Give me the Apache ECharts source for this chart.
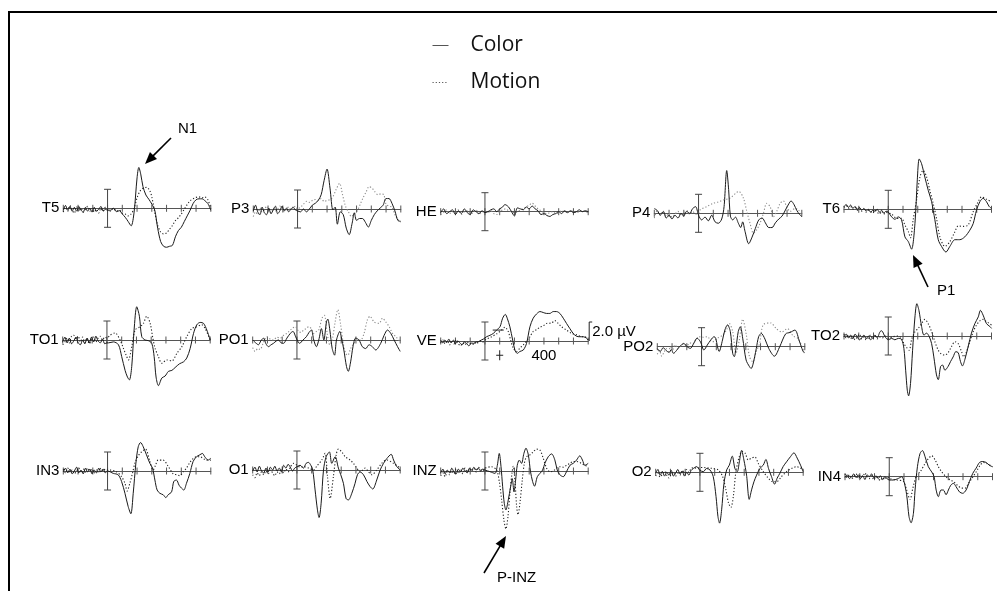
<!DOCTYPE html>
<html>
<head>
<meta charset="utf-8">
<title>ERP Color vs Motion</title>
<script src="https://cdn.jsdelivr.net/npm/echarts/dist/echarts.min.js"></script>
<style>
  html, body { margin: 0; padding: 0; background: #fff; }
  #erp { width: 997px; height: 591px; }
</style>
</head>
<body>
<div id="erp"></div>
<script>
// grand average ERPs, time in ms, amplitude in µV (negative plotted up)
const channels = ['T5', 'P3', 'HE', 'P4', 'T6', 'TO1', 'PO1', 'VE', 'PO2', 'TO2', 'IN3', 'O1', 'INZ', 'O2', 'IN4'];
const timeTicks = [-300, -200, -100, 0, 100, 200, 300, 400, 500, 600, 700];
const veTickLabel = 400;
const scaleBarUv = 2.0;

const t5Color = [[-300,0.2],[-285,-0.3],[-270,0.2],[-255,-0.2],[-240,0.3],[-225,-0.1],[-210,0.3],[-195,-0.2],[-180,0.2],[-165,0.4],[-150,-0.1],[-135,0.3],[-120,0.0],[-105,0.4],[-90,-0.1],[-75,0.3],[-60,0.1],[-45,-0.2],[-30,0.3],[-15,0.1],[0,0.2],[20,0.2],[40,0.0],[60,0.35],[80,0.25],[100,0.6],[120,0.95],[140,1.4],[160,1.85],[180,0.4],[200,-3.2],[212,-4.3],[225,-3.6],[240,-2.3],[260,-1.4],[280,-0.95],[300,-0.45],[320,0.2],[340,2.1],[360,3.5],[380,4.0],[400,4.1],[420,4.0],[440,3.9],[460,3.0],[480,2.35],[500,2.0],[520,1.4],[540,0.8],[560,0.2],[580,-0.5],[600,-0.9],[620,-1.0],[640,-1.0],[660,-0.8],[680,-0.5],[700,0.2]];
const t5Motion = [[-300,0.4],[-285,-0.1],[-270,0.3],[-255,-0.3],[-240,0.2],[-225,0.5],[-210,-0.2],[-195,0.3],[-180,0.0],[-165,0.4],[-150,0.1],[-135,-0.2],[-120,0.3],[-105,0.0],[-90,0.4],[-75,0.1],[-60,0.5],[-45,0.0],[-30,0.3],[-15,-0.1],[0,0.1],[20,0.3],[40,0.0],[60,0.3],[80,0.2],[100,0.5],[120,0.6],[140,0.8],[160,0.6],[180,0.0],[200,-1.1],[220,-1.8],[240,-2.1],[265,-2.2],[285,-1.9],[300,-1.2],[320,0.4],[340,1.8],[360,2.5],[380,2.7],[400,2.6],[420,2.2],[440,1.8],[460,1.3],[480,1.0],[500,0.6],[520,0.1],[540,-0.4],[560,-0.8],[580,-1.0],[600,-1.15],[620,-1.2],[640,-1.1],[660,-1.2],[680,-0.9],[700,0.0]];

const p3Color = [[-300,0.2],[-285,-0.4],[-270,0.3],[-255,0.6],[-240,-0.2],[-225,0.4],[-210,0.6],[-195,-0.1],[-180,0.5],[-165,0.1],[-150,-0.3],[-135,0.5],[-120,0.2],[-105,-0.3],[-90,0.2],[-75,-0.1],[-60,0.3],[-45,0.0],[-30,-0.2],[-15,0.1],[0,0.2],[20,0.3],[40,0.0],[60,0.3],[80,0.0],[100,-0.4],[120,-0.6],[140,-0.9],[160,-1.5],[180,-3.0],[200,-4.2],[220,-2.2],[240,0.1],[255,-0.2],[270,1.6],[290,0.3],[310,0.6],[330,2.0],[350,2.7],[370,1.5],[385,0.4],[400,1.2],[420,1.0],[440,1.0],[460,1.4],[480,1.9],[500,1.2],[520,0.6],[540,0.2],[560,-0.1],[580,-0.4],[600,-1.1],[620,-1.1],[640,-0.6],[660,0.2],[680,1.2],[700,1.3]];
const p3Motion = [[-300,0.8],[-285,0.3],[-270,0.6],[-255,-0.1],[-240,0.3],[-225,0.1],[-210,-0.3],[-195,0.2],[-180,0.4],[-165,-0.1],[-150,0.2],[-135,0.0],[-120,-0.3],[-105,0.1],[-90,0.3],[-75,0.0],[-60,-0.2],[-45,0.1],[-30,-0.1],[-15,-0.3],[0,0.0],[20,-0.2],[40,-0.5],[60,-0.8],[80,-0.7],[100,-0.9],[120,-1.0],[140,-0.9],[160,-1.1],[180,-0.8],[200,-0.9],[220,-1.0],[240,-1.3],[260,-2.0],[285,-2.7],[305,-1.5],[325,-0.3],[345,0.3],[365,0.8],[385,0.5],[405,0.2],[425,-0.5],[445,-1.2],[465,-1.8],[485,-2.35],[505,-2.2],[525,-1.8],[545,-1.5],[565,-1.6],[585,-1.5],[600,-0.5],[620,-0.3],[640,-0.2],[660,0.6],[680,1.1],[700,1.4]];

const heColor = [[-300,0.1],[-280,-0.3],[-260,0.2],[-240,0.0],[-220,-0.2],[-200,0.3],[-180,-0.1],[-160,0.2],[-140,-0.3],[-120,0.1],[-100,0.3],[-80,-0.2],[-60,0.0],[-40,0.2],[-20,-0.1],[0,0.1],[20,0.0],[40,-0.2],[60,-0.3],[80,0.0],[100,-0.3],[120,-0.5],[135,-0.75],[160,-0.5],[180,0.0],[200,0.45],[220,-0.4],[240,-0.3],[260,-0.2],[280,-0.5],[300,-0.3],[320,-0.6],[340,-0.3],[360,-0.1],[380,0.3],[400,0.2],[420,0.4],[440,0.5],[460,0.3],[480,0.2],[500,0.0],[520,0.2],[540,-0.1],[560,0.1],[580,-0.1],[600,0.1],[620,0.0],[640,-0.2],[660,0.0],[680,-0.1],[700,0.0]];
const heMotion = [[-300,0.3],[-280,0.1],[-260,-0.2],[-240,0.2],[-220,0.0],[-200,0.1],[-180,-0.2],[-160,0.3],[-140,0.0],[-120,-0.1],[-100,0.2],[-80,0.1],[-60,-0.2],[-40,0.3],[-20,0.0],[0,0.0],[20,0.1],[40,-0.1],[60,0.2],[80,0.3],[100,0.0],[120,-0.2],[140,-0.3],[160,-0.1],[180,0.0],[200,0.1],[220,0.0],[240,-0.2],[260,-0.3],[280,-0.5],[300,-0.7],[320,-0.9],[340,-0.6],[360,-0.3],[380,-0.1],[400,0.1],[420,0.2],[440,0.1],[460,0.0],[480,0.2],[500,0.1],[520,-0.1],[540,0.0],[560,0.1],[580,-0.1],[600,0.0],[620,0.1],[640,0.0],[660,-0.1],[680,0.0],[700,0.1]];

const p4Color = [[-300,-0.5],[-280,-0.3],[-259,0.2],[-239,-0.2],[-219,0.5],[-200,0.2],[-180,0.6],[-160,0.2],[-139,0.5],[-119,0.0],[-101,0.3],[-81,-0.2],[-60,0.0],[-40,-0.5],[-20,-0.7],[0,0.2],[21,0.7],[44,0.4],[66,0.8],[89,0.2],[112,0.9],[134,1.05],[157,0.6],[173,-0.7],[191,-4.5],[204,-2.5],[216,0.3],[232,0.7],[250,0.4],[270,1.05],[286,1.5],[299,0.9],[315,1.9],[340,3.2],[363,2.5],[385,1.6],[408,0.7],[431,0.5],[453,1.0],[476,1.5],[498,1.5],[521,1.0],[544,0.6],[566,0.3],[589,-0.35],[612,-1.0],[627,-1.3],[648,-0.9],[666,-0.3],[684,0.1],[700,0.35]];
const p4Motion = [[-300,0.5],[-280,-0.3],[-260,0.2],[-240,-0.2],[-220,0.3],[-200,0.0],[-180,0.4],[-160,0.1],[-140,-0.2],[-120,0.2],[-100,0.0],[-80,-0.3],[-60,0.1],[-40,-0.2],[-20,0.1],[0,0.0],[10,-0.35],[55,-0.7],[100,-1.05],[134,-1.2],[168,-1.4],[213,-1.6],[259,-2.2],[274,-2.3],[304,-1.6],[327,-0.2],[349,1.05],[372,2.1],[394,1.75],[417,1.05],[440,0.0],[462,-1.05],[485,-0.7],[508,0.35],[530,-0.2],[553,-1.05],[575,-1.3],[598,-0.7],[621,-0.2],[655,-0.5],[677,-0.35],[700,0.2]];

const t6Color = [[-300,-0.3],[-285,-0.5],[-270,-0.2],[-255,-0.45],[-240,-0.1],[-225,-0.3],[-210,0.0],[-195,-0.2],[-180,0.1],[-165,-0.1],[-150,0.2],[-135,0.0],[-120,0.3],[-105,0.1],[-90,0.2],[-75,0.0],[-60,0.3],[-45,0.1],[-30,0.4],[-15,0.2],[0,0.3],[23,0.8],[45,1.05],[68,0.8],[90,1.1],[113,2.9],[136,3.4],[158,4.2],[181,1.5],[197,-3.1],[210,-5.3],[226,-4.8],[248,-3.4],[271,-2.0],[294,-0.8],[316,1.1],[339,3.2],[361,3.9],[391,4.5],[418,3.9],[452,3.2],[485,3.2],[519,2.9],[553,2.2],[576,1.5],[598,0.1],[621,-0.8],[643,-1.15],[666,-0.8],[684,-0.3],[700,-0.1]];
const t6Motion = [[-300,-0.2],[-285,-0.4],[-270,-0.1],[-255,-0.3],[-240,0.0],[-225,-0.2],[-210,0.1],[-195,-0.1],[-180,0.2],[-165,0.0],[-150,0.3],[-135,0.1],[-120,0.2],[-105,0.4],[-90,0.1],[-75,0.3],[-60,0.5],[-45,0.2],[-30,0.5],[-15,0.3],[0,0.4],[23,0.5],[57,0.95],[90,0.95],[113,1.65],[136,2.35],[151,3.0],[169,1.1],[192,-1.0],[215,-3.4],[237,-4.1],[260,-3.4],[282,-2.0],[305,-0.6],[327,0.95],[350,2.9],[384,3.9],[418,3.4],[452,2.35],[474,1.75],[508,1.8],[542,1.65],[576,0.25],[610,-0.8],[632,-1.3],[666,-1.05],[700,-0.8]];

const to1Color = [[-300,0.2],[-285,-0.3],[-270,0.3],[-255,-0.2],[-240,0.4],[-225,0.1],[-210,-0.3],[-195,0.3],[-180,0.5],[-165,0.0],[-150,0.4],[-135,-0.2],[-120,0.3],[-105,-0.3],[-90,0.2],[-75,-0.4],[-60,0.1],[-45,0.3],[-30,-0.1],[-15,0.4],[0,0.3],[10,0.3],[44,0.2],[78,0.5],[100,1.75],[123,3.2],[139,3.9],[152,4.2],[168,2.8],[184,-1.05],[202,-3.5],[220,-2.5],[236,-0.35],[259,0.0],[281,0.07],[304,0.35],[320,1.75],[333,3.9],[349,4.8],[372,4.0],[394,3.8],[417,3.3],[440,3.2],[462,2.9],[492,2.5],[519,2.3],[541,1.9],[564,0.9],[587,-0.7],[609,-1.6],[632,-1.85],[655,-1.75],[677,-1.05],[700,0.0]];
const to1Motion = [[-300,0.5],[-285,0.2],[-270,-0.2],[-255,0.3],[-240,-0.4],[-225,-0.5],[-210,-0.1],[-195,-0.4],[-180,0.2],[-165,-0.3],[-150,0.3],[-135,-0.2],[-120,0.4],[-105,0.0],[-90,-0.3],[-75,0.2],[-60,-0.2],[-45,-0.4],[-30,0.0],[-15,-0.3],[0,-0.2],[21,-0.5],[55,-0.75],[89,0.0],[112,0.9],[130,1.6],[146,2.1],[168,0.7],[191,-1.05],[225,-1.4],[247,-1.75],[270,-2.5],[293,-1.75],[311,-0.2],[327,0.9],[349,1.75],[372,2.45],[406,2.1],[440,2.2],[474,1.4],[508,0.7],[541,-0.35],[575,-1.2],[609,-1.4],[643,-1.6],[666,-1.2],[700,0.0]];

const po1Color = [[-300,0.0],[-280,0.3],[-261,0.5],[-245,0.1],[-227,-0.2],[-210,0.4],[-193,0.7],[-175,0.5],[-159,0.35],[-140,0.1],[-125,0.0],[-108,0.3],[-91,0.35],[-68,-0.2],[-45,-0.7],[-27,-0.9],[-5,-0.2],[18,0.35],[41,0.0],[64,-0.35],[82,-0.8],[98,-1.05],[114,0.0],[132,0.7],[148,0.0],[166,-1.2],[182,0.0],[200,-1.9],[209,-2.2],[223,-1.05],[239,0.9],[255,1.6],[268,0.0],[291,-0.9],[300,-0.35],[318,1.05],[336,2.8],[348,3.3],[364,2.3],[380,0.7],[398,-0.2],[421,0.0],[443,0.7],[466,0.9],[489,0.5],[511,0.7],[534,1.05],[568,0.35],[591,-0.5],[614,-1.05],[636,-0.7],[659,0.0],[682,0.7],[700,1.2]];
const po1Motion = [[-300,0.8],[-284,1.2],[-265,0.9],[-250,1.0],[-228,0.3],[-205,-0.35],[-182,-0.1],[-159,0.0],[-136,-0.3],[-114,-0.2],[-90,-0.5],[-68,-0.7],[-34,-1.2],[-11,-1.4],[11,-0.9],[28,-0.8],[45,-1.05],[62,-1.2],[80,-1.4],[97,-1.2],[114,-0.7],[131,-0.9],[148,-1.05],[170,-2.3],[186,-2.6],[205,-0.7],[223,0.5],[239,0.0],[261,-2.1],[277,-3.2],[295,-1.75],[314,0.35],[330,1.4],[345,1.6],[364,0.9],[386,0.35],[409,0.0],[432,0.0],[455,-0.7],[477,-2.1],[495,-2.5],[523,-1.9],[557,-1.75],[580,-2.3],[602,-1.9],[625,-1.4],[648,-0.7],[671,-0.35],[700,0.2]];

const veColor = [[-300,-0.1],[-285,0.2],[-272,-0.1],[-259,0.1],[-245,-0.2],[-230,0.2],[-214,-0.1],[-200,0.3],[-185,0.0],[-169,0.2],[-155,0.4],[-140,0.1],[-124,0.25],[-110,0.5],[-101,0.4],[-90,0.2],[-79,0.25],[-60,0.1],[-45,0.07],[-25,-0.1],[-11,-0.2],[11,-0.45],[34,-0.6],[57,-0.8],[79,-1.15],[102,-1.5],[120,-2.4],[138,-2.8],[151,-2.4],[169,-1.5],[188,-0.1],[203,0.95],[219,1.3],[237,1.1],[260,0.95],[282,0.25],[305,-1.5],[327,-2.4],[350,-2.85],[373,-3.1],[395,-3.0],[418,-2.9],[440,-2.9],[463,-3.1],[485,-3.1],[508,-2.9],[531,-2.4],[553,-1.85],[576,-1.3],[598,-0.8],[621,-0.5],[643,-0.45],[666,-0.45],[689,-0.3],[700,-0.1]];
const veMotion = [[-300,0.2],[-285,-0.1],[-270,0.3],[-255,0.0],[-240,0.4],[-225,0.1],[-210,0.3],[-195,-0.1],[-180,0.3],[-165,0.5],[-150,0.2],[-135,0.4],[-120,0.1],[-105,0.3],[-90,0.2],[-75,0.4],[-60,0.1],[-45,0.2],[-30,0.0],[-15,0.1],[0,-0.1],[11,-0.2],[45,-0.45],[79,-0.75],[113,-1.15],[135,-1.45],[158,-1.0],[174,-0.1],[192,0.75],[215,1.1],[237,0.75],[260,0.4],[282,0.0],[305,-0.45],[327,-1.0],[350,-1.2],[373,-1.45],[395,-1.6],[418,-1.85],[452,-1.9],[474,-2.15],[497,-1.85],[519,-1.5],[553,-1.15],[587,-0.8],[621,-0.65],[655,-0.45],[677,-0.45],[700,-0.1]];

const po2Color = [[-300,0.2],[-280,0.5],[-260,0.1],[-240,0.4],[-220,0.6],[-205,0.3],[-190,0.7],[-170,0.4],[-150,0.0],[-135,-0.2],[-121,-0.35],[-98,0.0],[-76,0.18],[-53,-0.35],[-30,-0.9],[-7,-0.5],[16,0.35],[39,-0.18],[62,-0.7],[85,-1.05],[96,-0.9],[108,0.0],[119,0.5],[142,-0.7],[158,-1.75],[176,-2.3],[195,-1.6],[211,0.7],[222,1.05],[233,0.2],[249,-1.6],[263,-2.1],[279,-0.9],[302,1.4],[325,2.1],[336,2.3],[348,1.9],[371,0.2],[387,-1.05],[405,-1.4],[430,-0.8],[456,0.2],[494,1.0],[530,0.0],[570,-1.35],[600,-1.5],[633,-1.75],[665,-0.5],[696,0.6],[700,0.6]];
const po2Motion = [[-300,0.8],[-285,0.4],[-270,1.0],[-255,0.6],[-240,0.2],[-225,0.5],[-210,0.0],[-195,0.3],[-180,-0.2],[-160,0.2],[-140,-0.1],[-120,-0.3],[-100,-0.1],[-80,-0.4],[-60,-0.3],[-40,-0.7],[-18,-1.05],[10,-1.0],[39,-1.05],[73,-0.5],[108,-0.9],[142,-1.2],[170,-1.8],[188,-2.45],[211,-1.6],[233,0.7],[256,-0.7],[279,-2.9],[302,-1.4],[325,1.05],[348,1.6],[371,0.5],[394,-0.35],[418,-2.3],[469,-2.5],[507,-1.9],[544,-1.55],[582,-1.9],[620,-1.15],[657,-0.8],[700,0.8]];

const to2Color = [[-300,0.1],[-285,-0.2],[-270,0.2],[-255,-0.1],[-240,0.3],[-225,-0.2],[-210,0.1],[-195,0.4],[-180,0.2],[-165,-0.1],[-150,0.3],[-135,0.0],[-120,0.4],[-105,0.2],[-90,-0.1],[-75,0.2],[-56,-0.45],[-45,-0.55],[-22,0.07],[0,0.4],[23,0.25],[45,0.4],[68,0.25],[90,0.35],[106,1.3],[118,3.6],[129,5.7],[138,6.3],[151,5.0],[165,1.5],[181,-2.0],[194,-3.4],[208,-2.7],[226,-1.0],[242,-0.1],[260,-0.3],[278,0.07],[294,0.8],[309,2.2],[327,4.1],[339,4.6],[355,3.2],[368,3.05],[384,3.6],[406,3.2],[422,2.7],[440,2.2],[458,1.65],[474,1.75],[490,2.7],[503,3.15],[519,2.5],[542,1.1],[564,-0.3],[587,-1.3],[610,-2.0],[625,-2.7],[643,-2.2],[666,-1.3],[689,-1.0],[700,-0.8]];
const to2Motion = [[-300,-0.2],[-285,0.2],[-270,-0.1],[-255,0.3],[-240,0.0],[-225,0.4],[-210,0.1],[-195,-0.2],[-180,0.3],[-165,0.1],[-150,0.4],[-135,0.2],[-120,-0.1],[-105,0.3],[-90,0.0],[-75,0.3],[-60,0.1],[-40,0.2],[-20,0.0],[0,0.25],[34,0.07],[68,0.0],[90,0.25],[106,0.8],[124,1.2],[142,1.5],[158,0.4],[181,-0.45],[203,-0.8],[226,-1.3],[248,-1.75],[271,-1.3],[294,-0.45],[316,0.6],[339,1.5],[361,1.9],[384,2.0],[406,1.75],[429,1.1],[452,0.6],[474,0.8],[497,1.65],[513,2.2],[531,1.65],[553,0.6],[576,-0.45],[598,-1.15],[621,-1.6],[643,-1.75],[666,-1.5],[689,-1.3],[700,-1.15]];

const in3Color = [[-300,0.1],[-285,-0.3],[-270,0.2],[-255,-0.2],[-240,0.3],[-225,0.0],[-210,-0.4],[-195,0.2],[-180,-0.1],[-165,0.3],[-150,-0.3],[-135,0.1],[-120,-0.2],[-105,0.3],[-90,-0.1],[-75,0.2],[-60,-0.3],[-45,0.1],[-30,-0.2],[-15,0.2],[0,0.0],[39,0.25],[72,0.4],[95,1.1],[118,2.35],[140,3.75],[158,4.5],[174,2.35],[192,-0.8],[208,-2.55],[224,-3.0],[242,-2.55],[264,-1.7],[287,-0.8],[305,-0.3],[321,0.95],[336,2.0],[355,2.35],[377,2.5],[395,2.8],[411,2.5],[434,2.2],[449,1.1],[467,0.95],[485,1.5],[501,1.8],[517,2.0],[535,1.3],[558,0.25],[580,-1.0],[603,-1.5],[625,-1.7],[643,-1.85],[659,-1.5],[682,-1.15],[700,-1.35]];
const in3Motion = [[-300,-0.2],[-285,0.2],[-270,-0.3],[-255,0.1],[-240,-0.1],[-225,0.3],[-210,0.0],[-195,-0.3],[-180,0.2],[-165,-0.2],[-150,0.1],[-135,-0.3],[-120,0.0],[-105,-0.2],[-90,0.2],[-75,-0.1],[-60,0.1],[-45,-0.3],[-30,0.0],[-15,-0.2],[0,-0.1],[16,-0.1],[61,0.07],[95,0.6],[118,1.3],[133,2.1],[151,1.3],[169,0.25],[185,-0.8],[208,-1.6],[230,-2.0],[257,-2.3],[287,-1.0],[309,-0.1],[325,-0.6],[343,-1.15],[377,-1.15],[411,-0.5],[445,0.3],[470,0.4],[490,0.5],[512,0.1],[535,-0.3],[558,-0.9],[580,-1.3],[603,-1.5],[625,-1.5],[670,-1.15],[700,-1.15]];

const o1Color = [[-300,0.1],[-285,-0.3],[-270,0.2],[-255,-0.4],[-240,0.1],[-225,0.3],[-210,-0.2],[-195,0.2],[-180,-0.3],[-165,0.0],[-150,-0.4],[-135,0.1],[-120,-0.2],[-105,0.2],[-90,-0.5],[-75,-0.2],[-60,-0.6],[-45,-0.3],[-30,0.1],[-15,-0.2],[0,-0.35],[21,-0.5],[44,-0.2],[62,-0.7],[78,-0.8],[94,-0.5],[107,0.0],[123,2.1],[139,4.2],[150,5.0],[164,3.5],[180,0.0],[198,-1.4],[220,-1.9],[236,-0.7],[259,-1.4],[281,-0.2],[297,0.5],[315,1.4],[333,3.0],[349,3.15],[372,2.45],[394,1.4],[410,0.5],[428,0.2],[451,0.5],[474,1.2],[496,1.75],[514,2.0],[541,1.05],[564,0.0],[587,-0.7],[609,-1.2],[639,-1.65],[655,-1.05],[677,-0.35],[700,0.0]];
const o1Motion = [[-300,0.5],[-285,0.8],[-270,0.3],[-255,0.6],[-240,0.2],[-225,0.5],[-210,0.1],[-195,0.4],[-180,0.0],[-165,0.3],[-150,0.6],[-135,0.2],[-120,0.4],[-105,0.0],[-90,0.3],[-75,-0.1],[-60,0.2],[-45,-0.3],[-24,-0.7],[0,-0.5],[22,-0.3],[44,-0.35],[80,-0.2],[112,0.0],[134,-0.4],[168,-1.05],[191,-1.75],[207,0.7],[225,3.0],[247,0.7],[266,-1.6],[281,-2.2],[304,-1.9],[327,-1.4],[360,-1.05],[383,-0.7],[406,-0.2],[428,0.2],[462,-0.2],[485,0.2],[508,0.5],[541,0.0],[575,-0.7],[609,-1.05],[655,-0.7],[700,-0.2]];

const inzColor = [[-300,0.2],[-285,-0.2],[-270,0.3],[-255,-0.1],[-240,0.2],[-225,-0.3],[-210,0.1],[-195,0.3],[-180,-0.2],[-165,0.1],[-150,-0.3],[-135,0.0],[-120,0.2],[-105,-0.3],[-90,-0.1],[-75,-0.4],[-60,-0.1],[-45,-0.3],[-30,0.0],[-15,-0.2],[0,-0.1],[34,0.07],[68,0.25],[84,-0.6],[97,-1.85],[109,-0.45],[120,1.65],[131,3.4],[142,4.1],[158,3.05],[174,1.65],[185,0.8],[197,2.2],[208,0.95],[219,-0.6],[233,-1.15],[248,-0.8],[264,-1.85],[278,-2.4],[294,-1.7],[309,0.07],[323,1.1],[336,1.6],[355,0.6],[373,0.25],[391,-0.1],[406,-0.8],[429,-1.5],[452,-1.8],[474,-1.15],[490,-0.1],[508,0.4],[531,0.6],[553,0.07],[576,-0.6],[598,-0.8],[621,-1.15],[643,-1.6],[661,-1.15],[677,-0.6],[700,-0.8]];
const inzMotion = [[-300,0.5],[-285,0.2],[-270,0.6],[-255,0.1],[-240,0.4],[-225,0.0],[-210,0.3],[-195,-0.2],[-180,0.2],[-165,-0.1],[-150,0.3],[-135,-0.3],[-120,0.1],[-105,-0.2],[-90,0.0],[-75,-0.3],[-60,0.1],[-45,-0.4],[-30,-0.2],[-15,0.0],[0,-0.3],[45,-0.45],[79,-0.1],[97,1.1],[113,3.05],[129,5.2],[142,6.1],[156,4.8],[169,2.35],[183,0.25],[192,-0.5],[203,0.95],[215,3.75],[224,4.6],[237,3.4],[253,0.95],[267,-0.8],[282,-1.5],[305,-1.7],[327,-2.0],[350,-2.3],[373,-2.2],[395,-1.35],[418,-0.3],[440,0.07],[463,0.0],[485,-0.3],[508,-0.45],[531,-0.4],[553,-0.6],[576,-0.8],[598,-1.0],[621,-1.0],[655,-0.8],[677,-0.6],[700,-0.45]];

const o2Color = [[-300,0.1],[-285,-0.3],[-270,0.3],[-255,-0.1],[-240,0.4],[-225,0.0],[-210,0.3],[-195,-0.2],[-180,0.4],[-165,0.1],[-150,-0.3],[-135,0.2],[-120,-0.1],[-105,0.4],[-90,0.0],[-75,0.3],[-60,-0.2],[-45,-0.4],[-22,-0.6],[0,-0.2],[23,-0.07],[45,-0.4],[68,-0.25],[90,0.45],[109,2.55],[122,4.65],[133,5.35],[147,3.95],[163,1.15],[181,-0.25],[199,-0.75],[219,-1.7],[237,-0.4],[253,-0.07],[267,-1.1],[282,-2.3],[298,-1.3],[316,0.3],[334,2.85],[350,1.85],[366,1.0],[384,0.3],[406,-0.4],[429,-0.75],[447,-1.35],[465,-0.4],[485,0.45],[506,1.25],[524,0.6],[542,0.1],[564,-0.6],[587,-1.1],[614,-1.65],[637,-2.05],[659,-1.5],[682,-0.75],[700,-0.07]];
const o2Motion = [[-300,0.4],[-285,0.1],[-270,0.5],[-255,0.2],[-240,-0.1],[-225,0.3],[-210,0.6],[-195,0.2],[-180,0.0],[-165,0.4],[-150,0.1],[-135,0.3],[-120,-0.2],[-105,0.1],[-90,-0.3],[-75,0.0],[-60,-0.4],[-40,-0.5],[-20,-0.4],[0,-0.5],[30,-0.5],[60,-0.45],[90,-0.4],[124,-0.25],[154,0.45],[176,1.85],[194,3.25],[210,3.7],[226,2.55],[244,-0.07],[267,-1.65],[287,-2.2],[307,-2.0],[327,-1.3],[350,-1.5],[373,-1.6],[395,-0.95],[429,-0.07],[463,0.6],[492,1.0],[519,1.0],[553,0.45],[587,-0.07],[621,-0.4],[655,-0.6],[700,-0.25]];

const in4Color = [[-300,0.1],[-285,-0.2],[-270,0.2],[-255,0.0],[-240,-0.3],[-225,0.1],[-210,-0.2],[-195,0.2],[-180,-0.1],[-165,0.3],[-150,-0.2],[-135,0.0],[-120,-0.3],[-105,0.1],[-90,-0.1],[-75,0.2],[-60,-0.1],[-45,0.3],[-30,0.0],[-15,0.2],[1,0.35],[28,0.35],[62,0.18],[85,0.0],[100,0.5],[118,1.9],[134,4.2],[148,4.85],[164,3.85],[175,1.4],[191,-1.05],[209,-2.45],[225,-2.75],[243,-2.1],[265,-1.05],[288,-0.5],[304,0.0],[318,1.4],[333,2.1],[351,1.4],[367,1.4],[385,1.9],[401,1.4],[417,0.9],[435,0.7],[453,1.05],[476,1.6],[498,1.75],[521,1.4],[544,0.5],[566,-0.35],[589,-0.9],[612,-1.5],[634,-1.6],[657,-1.5],[679,-1.2],[700,-1.05]];
const in4Motion = [[-300,-0.3],[-285,0.1],[-270,-0.2],[-255,0.2],[-240,0.0],[-225,-0.3],[-210,0.1],[-195,-0.2],[-180,0.0],[-165,-0.4],[-150,0.0],[-135,0.2],[-120,-0.1],[-105,0.3],[-90,0.0],[-75,0.2],[-60,0.4],[-45,0.1],[-30,0.3],[-15,0.0],[0,0.18],[51,0.35],[96,0.5],[118,1.4],[141,2.4],[160,1.2],[186,-0.2],[209,-0.5],[243,-1.4],[265,-1.9],[288,-2.2],[311,-1.75],[333,-1.05],[356,-0.5],[385,0.0],[413,0.35],[435,0.5],[462,0.9],[492,1.2],[514,1.2],[537,0.7],[560,0.18],[589,-0.5],[616,-1.2],[639,-1.5],[661,-1.4],[700,-1.05]];

const colorWaves = [t5Color, p3Color, heColor, p4Color, t6Color, to1Color, po1Color, veColor, po2Color, to2Color, in3Color, o1Color, inzColor, o2Color, in4Color];
const motionWaves = [t5Motion, p3Motion, heMotion, p4Motion, t6Motion, to1Motion, po1Motion, veMotion, po2Motion, to2Motion, in3Motion, o1Motion, inzMotion, o2Motion, in4Motion];

// layout: [axis left edge, baseline y] in px
const panelPos = [
  [63.3, 208.3], [253.3, 209], [440.7, 211.7], [654.3, 213.3], [844, 209.3],
  [62.7, 340], [252.7, 340], [440.7, 341], [657.3, 346.7], [844, 336],
  [63.3, 471], [252.7, 470], [440.7, 471], [655.7, 472.3], [845, 476.7]
];
const panelW = 147.5;
const panelH = 152; // -8..8 µV -> 9.5 px per µV
const lightMotion = ['P3', 'HE', 'P4', 'PO1', 'PO2'];
const veIdx = channels.indexOf('VE');

const chart = echarts.init(document.getElementById('erp'), null, { renderer: 'canvas' });

const grids = [], xAxes = [], yAxes = [], series = [];
channels.forEach((ch, i) => {
  const [left, base] = panelPos[i];
  grids.push({ left: left, top: base - panelH / 2, width: panelW, height: panelH, outerBoundsMode: 'none', containLabel: false });
  xAxes.push({
    gridIndex: i, type: 'value', min: -300, max: 700, interval: 100,
    name: ch, nameLocation: 'start', nameGap: 4,
    nameTextStyle: { fontSize: 15, color: '#000', fontFamily: 'Liberation Sans' },
    axisLine: { show: true, onZero: true, lineStyle: { color: '#555', width: 1 } },
    axisTick: { show: false },
    axisLabel: { show: false },
    splitLine: { show: false }
  });
  yAxes.push({ gridIndex: i, type: 'value', min: -8, max: 8, inverse: true, show: false, splitLine: { show: false } });

  series.push({
    type: 'line', name: 'Color', xAxisIndex: i, yAxisIndex: i, data: colorWaves[i],
    symbol: 'none', showSymbol: false, smooth: 0.3, clip: false, silent: true, z: 4,
    lineStyle: { color: '#1a1a1a', width: 1 }, itemStyle: { color: '#1a1a1a' }
  });
  const mc = lightMotion.includes(ch) ? '#8a8a8a' : '#222';
  series.push({
    type: 'line', name: 'Motion', xAxisIndex: i, yAxisIndex: i, data: motionWaves[i],
    symbol: 'none', showSymbol: false, smooth: 0.3, clip: false, silent: true, z: 3,
    lineStyle: { color: mc, width: 1.1, type: [1.2, 2] }, itemStyle: { color: mc }
  });
  // time ticks crossing the baseline
  series.push({
    type: 'custom', xAxisIndex: i, yAxisIndex: i, silent: true, z: 2,
    data: timeTicks.map(t => [t, 0]),
    renderItem: (params, api) => {
      const p = api.coord([api.value(0), 0]);
      return { type: 'line', shape: { x1: p[0], y1: p[1] - 3.5, x2: p[0], y2: p[1] + 3.5 }, style: { stroke: '#555', lineWidth: 1 } };
    }
  });
  // ±2 µV calibration bar at stimulus onset
  series.push({
    type: 'custom', xAxisIndex: i, yAxisIndex: i, silent: true, z: 2,
    data: [[0, -scaleBarUv, scaleBarUv]],
    renderItem: (params, api) => {
      const a = api.coord([api.value(0), api.value(1)]);
      const b = api.coord([api.value(0), api.value(2)]);
      const st = { stroke: '#444', lineWidth: 1 };
      return {
        type: 'group', children: [
          { type: 'line', shape: { x1: a[0], y1: a[1], x2: b[0], y2: b[1] }, style: st },
          { type: 'line', shape: { x1: a[0] - 3.5, y1: a[1], x2: a[0] + 3.5, y2: a[1] }, style: st },
          { type: 'line', shape: { x1: b[0] - 3.5, y1: b[1], x2: b[0] + 3.5, y2: b[1] }, style: st }
        ]
      };
    }
  });
});

// amplitude scale, 400 ms label and onset markers in the VE panel
series.push({
  type: 'custom', xAxisIndex: veIdx, yAxisIndex: veIdx, silent: true, z: 5,
  data: [[700, 0, -scaleBarUv]],
  renderItem: (params, api) => {
    const a = api.coord([api.value(0), api.value(1)]);
    const b = api.coord([api.value(0), api.value(2)]);
    const mid = api.coord([api.value(0), api.value(2) / 2]);
    const lab = api.coord([veTickLabel, 0]);
    const cross = api.coord([100, 1.5]);
    const dash = api.coord([90, -1.15]);
    const st = { stroke: '#222', lineWidth: 1 };
    const txt = { fontSize: 15, fontFamily: 'Liberation Sans', fill: '#000' };
    return {
      type: 'group', children: [
        { type: 'line', shape: { x1: a[0] + 1, y1: a[1], x2: b[0] + 1, y2: b[1] }, style: st },
        { type: 'line', shape: { x1: b[0] + 1, y1: b[1], x2: b[0] + 4, y2: b[1] }, style: st },
        { type: 'text', x: b[0] + 4, y: mid[1], style: Object.assign({ text: scaleBarUv.toFixed(1) + ' µV', verticalAlign: 'middle', align: 'left' }, txt) },
        { type: 'text', x: lab[0], y: lab[1] + 15, style: Object.assign({ text: String(veTickLabel), verticalAlign: 'middle', align: 'center' }, txt) },
        { type: 'line', shape: { x1: cross[0] - 3.5, y1: cross[1], x2: cross[0] + 3.5, y2: cross[1] }, style: st },
        { type: 'line', shape: { x1: cross[0], y1: cross[1] - 5, x2: cross[0], y2: cross[1] + 5 }, style: st },
        { type: 'line', shape: { x1: dash[0] - 5.5, y1: dash[1], x2: dash[0] + 5.5, y2: dash[1] }, style: st }
      ]
    };
  }
});

function arrow(tip, tail) {
  const dx = tip[0] - tail[0], dy = tip[1] - tail[1];
  const len = Math.hypot(dx, dy), ux = dx / len, uy = dy / len;
  const hl = 12, hw = 5;
  const bx = tip[0] - ux * hl, by = tip[1] - uy * hl;
  return [
    { type: 'line', shape: { x1: tail[0], y1: tail[1], x2: bx + ux * 2, y2: by + uy * 2 }, style: { stroke: '#000', lineWidth: 1.6 } },
    { type: 'polygon', shape: { points: [tip, [bx - uy * hw, by + ux * hw], [bx + uy * hw, by - ux * hw]] }, style: { fill: '#000' } }
  ];
}
function note(text, x, y) {
  return { type: 'text', x: x, y: y, style: { text: text, fontSize: 15, fontFamily: 'Liberation Sans', fill: '#000', verticalAlign: 'middle' } };
}

const option = {
  animation: false,
  backgroundColor: '#fff',
  textStyle: { fontFamily: 'Liberation Sans' },
  legend: {
    data: ['Color', 'Motion'], orient: 'vertical', left: 427, top: 30,
    itemWidth: 16, itemHeight: 12, itemGap: 16, selectedMode: false,
    itemStyle: { opacity: 0, borderWidth: 0 },
    lineStyle: { width: 1, color: '#555' },
    textStyle: { fontSize: 21, color: '#111', fontFamily: 'Open Sans', padding: [0, 0, 0, 17] }
  },
  grid: grids,
  xAxis: xAxes,
  yAxis: yAxes,
  series: series,
  graphic: [
    { type: 'rect', shape: { x: 9, y: 12, width: 1000, height: 600 }, style: { fill: 'none', stroke: '#000', lineWidth: 2 }, silent: true },
    ...arrow([145, 164], [171, 138]),
    note('N1', 178, 129),
    ...arrow([913, 255], [928, 287]),
    note('P1', 937, 291),
    ...arrow([506, 536], [484, 573]),
    note('P-INZ', 497, 578)
  ]
};
chart.setOption(option);
</script>
</body>
</html>
